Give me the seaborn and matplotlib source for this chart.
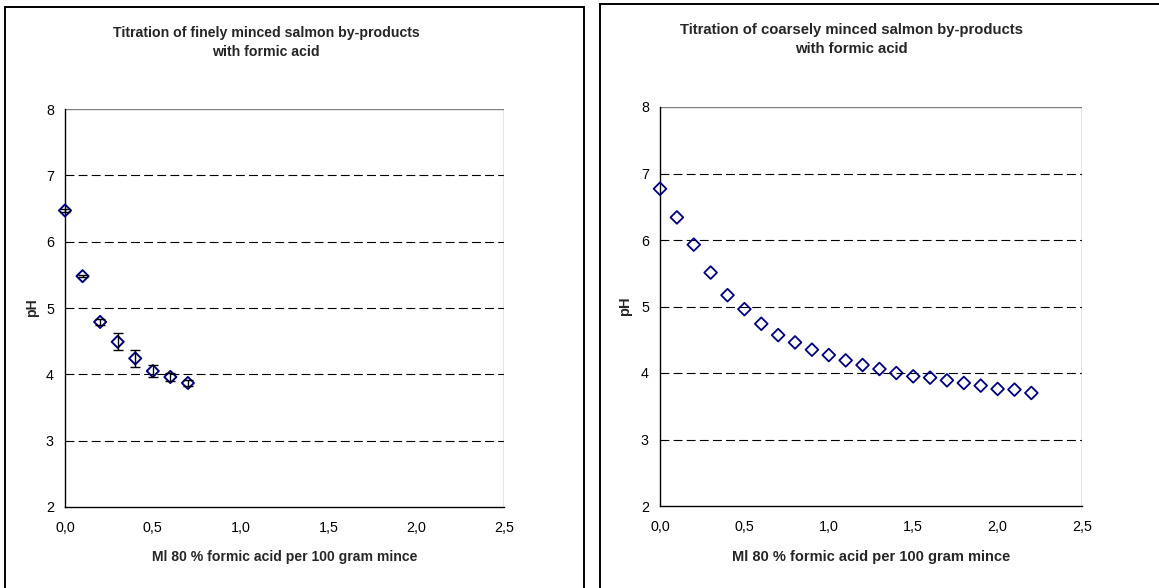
import numpy as np
import pandas as pd
import matplotlib
matplotlib.use("Agg")
import matplotlib.pyplot as plt
import seaborn as sns
from matplotlib.patches import Rectangle

# data
fine_ml = [0.0, 0.1, 0.2, 0.3, 0.4, 0.5, 0.6, 0.7]
fine_ph = [6.47, 5.48, 4.79, 4.49, 4.24, 4.05, 3.96, 3.87]
fine_err = [0.03, 0.02, 0.04, 0.13, 0.13, 0.085, 0.06, 0.04]

coarse_ml = [0.0, 0.1, 0.2, 0.3, 0.4, 0.5, 0.6, 0.7, 0.8, 0.9, 1.0, 1.1,
             1.2, 1.3, 1.4, 1.5, 1.6, 1.7, 1.8, 1.9, 2.0, 2.1, 2.2]
coarse_ph = [6.77, 6.34, 5.93, 5.51, 5.17, 4.96, 4.74, 4.57, 4.46, 4.35, 4.27, 4.19,
             4.12, 4.06, 4.00, 3.95, 3.93, 3.89, 3.85, 3.81, 3.76, 3.75, 3.70]

titles = ["Titration of finely minced salmon by-products\nwith formic acid",
          "Titration of coarsely minced salmon by-products\nwith formic acid"]
xlabel = "Ml 80 % formic acid per 100 gram mince"
ylabel = "pH"
xticks = [0.0, 0.5, 1.0, 1.5, 2.0, 2.5]
xticklabels = ["0,0", "0,5", "1,0", "1,5", "2,0", "2,5"]
yticks = [2, 3, 4, 5, 6, 7, 8]

sns.set_style("white")
plt.rcParams['font.family'] = ['Liberation Sans', 'DejaVu Sans']

navy = "#000080"

fig = plt.figure(figsize=(11.59, 5.88), dpi=100)
ax_l = fig.add_axes([65 / 1159, 1 - 507 / 588, 439 / 1159, 398 / 588])
ax_r = fig.add_axes([660 / 1159, 1 - 506 / 588, 422 / 1159, 399 / 588])

df_fine = pd.DataFrame({"ml": fine_ml, "ph": fine_ph, "err": fine_err})
df_coarse = pd.DataFrame({"ml": coarse_ml, "ph": coarse_ph})

# fine mince: markers plus error bars drawn over them, as in Excel
sns.scatterplot(data=df_fine, x="ml", y="ph", ax=ax_l, marker="D", s=38,
                facecolors="none", edgecolor=navy, linewidth=1.4, zorder=4,
                clip_on=False)
ax_l.errorbar(df_fine["ml"], df_fine["ph"], yerr=df_fine["err"], fmt="none",
              ecolor="black", elinewidth=1.0, capsize=3.6, capthick=1.0,
              zorder=5, clip_on=False)

sns.scatterplot(data=df_coarse, x="ml", y="ph", ax=ax_r, marker="D", s=42,
                facecolors="none", edgecolor=navy, linewidth=1.3, zorder=4,
                clip_on=False)

# right chart was rendered a touch larger in the original
label_sizes = {ax_l: 10.1, ax_r: 10.5}

for ax in (ax_l, ax_r):
    ax.set_xlim(0, 2.5)
    ax.set_ylim(2, 8)
    ax.set_xticks(xticks)
    ax.set_xticklabels(xticklabels)
    ax.set_yticks(yticks)
    ax.set_facecolor("white")
    for y in yticks[1:-1]:
        ax.axhline(y, color="black", lw=0.8, ls=(0, (8, 3.8)), zorder=1)
    ax.axhline(8, color="#808080", lw=1.0, zorder=1)
    for side in ("top", "right"):
        ax.spines[side].set_visible(False)
    ax.axvline(2.5, color="#808080", lw=1.0, zorder=1)
    ax.spines["left"].set_color("black")
    ax.spines["bottom"].set_color("black")
    ax.spines["left"].set_linewidth(1.0)
    ax.spines["bottom"].set_linewidth(1.0)
    ax.spines["left"].set_zorder(3)
    ax.tick_params(axis="both", direction="out", length=3, width=1.0,
                   colors="black", labelsize=10.3)
    ax.tick_params(axis="x", pad=7)
    ax.tick_params(axis="y", pad=5)
    ax.set_xlabel(xlabel, fontsize=label_sizes[ax], fontweight="bold")
    ax.set_ylabel(ylabel, fontsize=label_sizes[ax], fontweight="bold")
    ax.xaxis.label.set_va("center")
    ax.yaxis.label.set_va("center")
    ax.yaxis.label.set_ha("center")

ax_l.xaxis.set_label_coords(0.5, -(557.5 - 507) / 398)
ax_r.xaxis.set_label_coords(0.5, -(557.5 - 506) / 399)
ax_l.yaxis.set_label_coords(-33 / 439, 0.5)
ax_r.yaxis.set_label_coords(-35 / 422, 0.5)

fig.text(266 / 1159, 1 - 42.5 / 588, titles[0], ha="center", va="center",
         fontsize=10.2, fontweight="bold", linespacing=1.5)
fig.text(851 / 1159, 1 - 39.5 / 588, titles[1], ha="center", va="center",
         fontsize=10.7, fontweight="bold", linespacing=1.45)

# chart area borders (cut off by the image edges)
fig.patches.append(Rectangle((5 / 1159, -0.05), 579 / 1159, 1.05 - 7 / 588,
                             transform=fig.transFigure, fill=False,
                             edgecolor="black", lw=1.4))
fig.patches.append(Rectangle((600 / 1159, -0.05), 0.6, 1.05 - 4 / 588,
                             transform=fig.transFigure, fill=False,
                             edgecolor="black", lw=1.4))

fig.savefig("out.png", dpi=100, facecolor="white")
